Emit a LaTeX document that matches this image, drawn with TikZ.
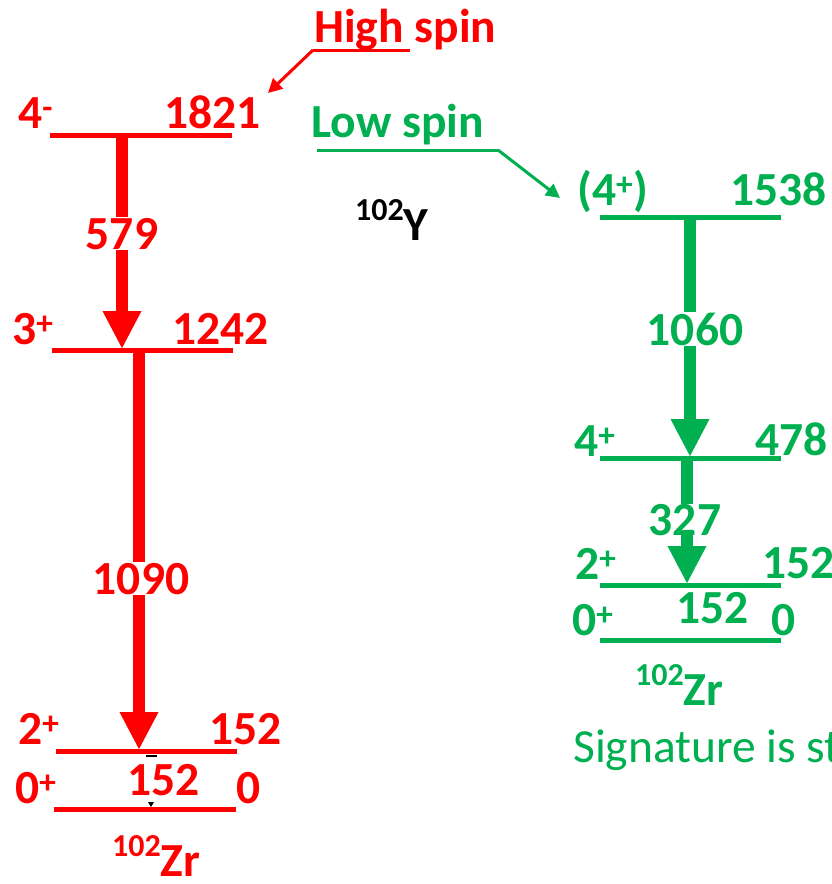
\documentclass[tikz,border=0pt]{standalone}
\usepackage{fontspec}
\setmainfont{Carlito}
\usetikzlibrary{arrows.meta}
\definecolor{hired}{HTML}{FF0000}
\definecolor{logreen}{HTML}{00B050}
\newcommand{\isosup}[1]{\raisebox{0.42em}{\fontsize{32}{34}\selectfont #1}}
\begin{document}
\begin{tikzpicture}[x=1pt,y=-1pt,
  lbl/.style={inner sep=0pt,anchor=base west,font=\fontsize{47.5}{52}\selectfont\bfseries},
  level/.style={line width=5pt},
  gam/.style={line width=12pt,-{Triangle[length=38pt,width=36pt]}},
  gamlbl/.style={inner sep=1pt,fill=white,anchor=base,font=\fontsize{47.5}{52}\selectfont\bfseries},
  ptr/.style={line width=3pt,-{Triangle[length=14pt,width=14pt]}}]
\useasboundingbox (0,0) rectangle (832,884);

% ---------------- red (high spin) ----------------
\coordinate (r4a) at (50,135);  \coordinate (r4b) at (232,135);
\coordinate (r3a) at (52,350);  \coordinate (r3b) at (233,350);
\coordinate (r2a) at (56,751);  \coordinate (r2b) at (237,751);
\coordinate (r0a) at (54,809);  \coordinate (r0b) at (236,809);
\draw[level,hired] (r4a) -- (r4b);
\draw[level,hired] (r3a) -- (r3b);
\draw[level,hired] (r2a) -- (r2b);
\draw[level,hired] (r0a) -- (r0b);
\node[lbl,text=hired] (r4s) at (18,128) {4\textsuperscript{-}};
\node[lbl,text=hired] (r4e) at (164,128) {1821};
\node[lbl,text=hired] (r3s) at (12,344) {3\textsuperscript{+}};
\node[lbl,text=hired] (r3e) at (172,344) {1242};
\node[lbl,text=hired] (r2s) at (18,744) {2\textsuperscript{+}};
\node[lbl,text=hired] (r2e) at (209,744) {152};
\node[lbl,text=hired] (r0s) at (15,803) {0\textsuperscript{+}};
\node[lbl,text=hired] (r0g) at (127,795) {152};
\node[lbl,text=hired] (r0e) at (236,803) {0};
\node[lbl,text=hired] (rzr) at (112,876) {\isosup{102}Zr};
\coordinate (g1s) at (122,137); \coordinate (g1e) at (122,349);
\coordinate (g2s) at (139,352); \coordinate (g2e) at (139,750);
\draw[gam,hired] (g1s) -- (g1e);
\draw[gam,hired] (g2s) -- (g2e);
\node[gamlbl,text=hired] (g1l) at (122,249) {579};
\node[gamlbl,text=hired] (g2l) at (141,594) {1090};
\node[lbl,text=hired] (hs) at (314,42) {High spin};
\coordinate (hsa) at (410,50); \coordinate (hsb) at (313,50); \coordinate (hst) at (268,93);
\draw[line width=3pt,hired] (hsa) -- (hsb);
\draw[ptr,hired] (hsb) -- (hst);
% small black marks
\coordinate (bm1) at (146,756); \coordinate (bm2) at (157,756);
\draw[line width=1.5pt,black] (bm1) -- (bm2);
\fill[black] (148,802) -- (154,802) -- (151,807) -- cycle;

% ---------------- black 102Y ----------------
\node[lbl,text=black] (y102) at (355,240) {\isosup{102}Y};

% ---------------- green (low spin) ----------------
\coordinate (l4a) at (600,217); \coordinate (l4b) at (781,217);
\coordinate (l3a) at (600,458); \coordinate (l3b) at (781,458);
\coordinate (l2a) at (600,585); \coordinate (l2b) at (781,585);
\coordinate (l0a) at (600,640); \coordinate (l0b) at (781,640);
\draw[level,logreen] (l4a) -- (l4b);
\draw[level,logreen] (l3a) -- (l3b);
\draw[level,logreen] (l2a) -- (l2b);
\draw[level,logreen] (l0a) -- (l0b);
\node[lbl,text=logreen] (l4s) at (577,205) {(4\textsuperscript{+})};
\node[lbl,text=logreen] (l4e) at (730,205) {1538};
\node[lbl,text=logreen] (l3s) at (574,456) {4\textsuperscript{+}};
\node[lbl,text=logreen] (l3e) at (755,455) {478};
\node[lbl,text=logreen] (l2s) at (575,579) {2\textsuperscript{+}};
\node[lbl,text=logreen] (l2e) at (762,578) {152};
\node[lbl,text=logreen] (l0s) at (572,635) {0\textsuperscript{+}};
\node[lbl,text=logreen] (l0g) at (676,623) {152};
\node[lbl,text=logreen] (l0e) at (771,635) {0};
\node[lbl,text=logreen] (lzr) at (635,705) {\isosup{102}Zr};
\coordinate (h1s) at (690,219); \coordinate (h1e) at (690,457);
\coordinate (h2s) at (687,460); \coordinate (h2e) at (687,584);
\draw[gam,logreen] (h1s) -- (h1e);
\draw[gam,logreen] (h2s) -- (h2e);
\node[gamlbl,text=logreen] (h1l) at (695,345) {1060};
\node[gamlbl,text=logreen,inner sep=0pt] (h2l) at (685,535) {327};
\node[lbl,text=logreen] (ls) at (311,137) {Low spin};
\coordinate (lsa) at (317,150); \coordinate (lsb) at (498,150); \coordinate (lst) at (560,198);
\draw[line width=3pt,logreen] (lsa) -- (lsb);
\draw[ptr,logreen] (lsb) -- (lst);
\node[inner sep=0pt,anchor=base west,font=\fontsize{47.5}{52}\selectfont,text=logreen] (sig) at (573,762) {Signature is st};
\end{tikzpicture}
\end{document}
